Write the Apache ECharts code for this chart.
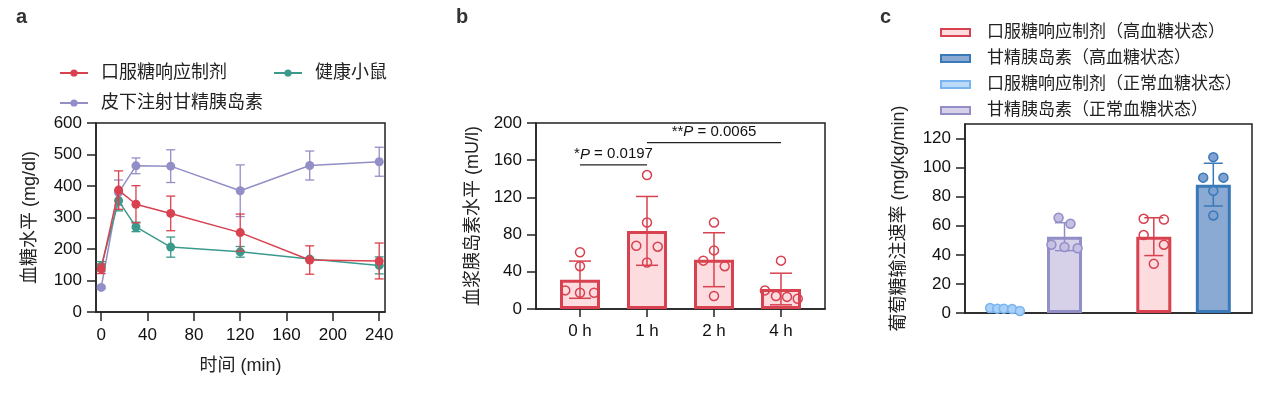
<!DOCTYPE html>
<html><head><meta charset="utf-8">
<script src="https://cdn.jsdelivr.net/npm/echarts@6/dist/echarts.min.js"></script>
<style>html,body{margin:0;padding:0;background:#fff}#c{width:1268px;height:397px}</style>
</head><body><div id="c"></div>
<script>
// ---- Panel a data ----
const timePoints = [0, 15, 30, 60, 120, 180, 240];
const oralMean = [137, 387, 342, 313, 252, 165, 162];
const oralSD = [15, 61, 59, 55, 59, 45, 57];
const healthyMean = [145, 353, 270, 206, 191, 168, 148];
const healthySD = [15, 32, 15, 32, 17, 5, 27];
const glargineMean = [78, 379, 464, 463, 385, 465, 477];
const glargineSD = [4, 40, 25, 52, 82, 46, 46];
const aXTicks = [0, 40, 80, 120, 160, 200, 240];
const aNames = ['口服糖响应制剂', '健康小鼠', '皮下注射甘精胰岛素'];

// ---- Panel b data ----
const bCats = ['0 h', '1 h', '2 h', '4 h'];
const bMean = [31.5, 84, 53, 21.5];
const bSD = [20, 37, 29, 17];
const bPoints = [[20, 46, 61, 17.5, 17.5], [144, 93, 68, 67, 50], [93, 63, 52, 46, 14], [52, 20, 14, 13, 11]];
const bJitter = [[-0.22, 0, 0, 0, 0.21], [0, 0, -0.16, 0.16, 0], [0, 0, -0.16, 0.16, 0], [0, -0.24, -0.075, 0.09, 0.25]];
const bSig = [[0, 1, 155, '*', '0.0197'], [1, 3, 179, '**', '0.0065']];

// ---- Panel c data ----
const cNames = ['口服糖响应制剂（高血糖状态）', '甘精胰岛素（高血糖状态）', '口服糖响应制剂（正常血糖状态）', '甘精胰岛素（正常血糖状态）'];
const cPos = [2.5, 3.5, 0, 1];
const cMean = [52.5, 88.3, 2.7, 52.5];
const cSD = [13, 14.7, 0.7, 9.6];
const cPoints = [[64.8, 64.3, 53.6, 47, 33.8], [107.2, 93.1, 93.1, 84, 67.1], [3.4, 3, 3, 2.7, 1.4], [65.5, 61.4, 47, 45.4, 44.5]];
const cJitter = [[-0.17, 0.17, -0.17, 0.17, 0], [0, -0.17, 0.17, 0, 0], [-0.25, -0.13, -0.02, 0.12, 0.25], [-0.1, 0.1, -0.22, 0, 0.22]];
const cYTicks = [0, 20, 40, 60, 80, 100, 120];

// ---- styles ----
const FONT = '"Liberation Sans", Arial, "Noto Sans CJK SC", sans-serif';
const INK = '#222';
const RED = '#D8414F', RED_FILL = '#FDDCDF';
const TEAL = '#3B9A8C';
const PURPLE = '#928EC8', PURPLE_FILL = '#D6D1E8', PURPLE_PT = '#C5C0E2';
const BLUE = '#3A79B7', BLUE_FILL = '#8AA9D3', BLUE_PT = '#7FA2D2';
const LBLUE = '#79B4F0', LBLUE_FILL = '#BBDAF8', LBLUE_PT = '#A9D0F7';
const cStroke = [RED, BLUE, LBLUE, PURPLE];
const cFill = [RED_FILL, BLUE_FILL, LBLUE_FILL, PURPLE_FILL];
const cPtFill = ['rgba(255,255,255,0)', BLUE_PT, LBLUE_PT, PURPLE_PT];

const axisLine = { show: true, onZero: false, lineStyle: { color: INK, width: 1.5 } };
const tickStyle = { color: INK, width: 1.5 };
const lblStyle = { fontSize: 17, color: '#111', fontFamily: FONT };
const nameStyle = { fontSize: 18, color: '#222', fontFamily: FONT };

function errSeries(gi, data, color, capW, lw, z) {
  return {
    type: 'custom', xAxisIndex: gi, yAxisIndex: gi, data: data, z: z, silent: true,
    renderItem: function (p, api) {
      const x = api.value(0), m = api.value(1), s = api.value(2);
      const t = api.coord([x, m + s]), b = api.coord([x, m - s]);
      const st = { stroke: color, lineWidth: lw };
      return { type: 'group', children: [
        { type: 'line', shape: { x1: t[0], y1: t[1], x2: b[0], y2: b[1] }, style: st },
        { type: 'line', shape: { x1: t[0] - capW / 2, y1: t[1], x2: t[0] + capW / 2, y2: t[1] }, style: st },
        { type: 'line', shape: { x1: b[0] - capW / 2, y1: b[1], x2: b[0] + capW / 2, y2: b[1] }, style: st }
      ] };
    }
  };
}

const series = [];
// Panel a lines (purple bottom, teal, red top)
const aSets = [
  { name: aNames[2], mean: glargineMean, sd: glargineSD, color: PURPLE },
  { name: aNames[1], mean: healthyMean, sd: healthySD, color: TEAL },
  { name: aNames[0], mean: oralMean, sd: oralSD, color: RED }
];
aSets.forEach(function (s, i) {
  series.push(errSeries(0, timePoints.map(function (t, k) { return [t, s.mean[k], s.sd[k]]; }), s.color, 9, 1.3, 2 + i * 2));
  series.push({
    type: 'line', name: s.name, xAxisIndex: 0, yAxisIndex: 0, z: 3 + i * 2,
    data: timePoints.map(function (t, k) { return [t, s.mean[k]]; }),
    symbol: 'circle', symbolSize: 9, showSymbol: true,
    itemStyle: { color: s.color }, lineStyle: { color: s.color, width: 1.5 }
  });
});

// Panel b
series.push({
  type: 'bar', xAxisIndex: 1, yAxisIndex: 1, barWidth: 40, z: 2,
  data: bMean.map(function (v, i) { return [i, v]; }),
  itemStyle: { color: RED_FILL, borderColor: RED, borderWidth: 3 }
});
series.push(errSeries(1, bMean.map(function (v, i) { return [i, v, bSD[i]]; }), RED, 22, 1.5, 3));
const bScatter = [];
bPoints.forEach(function (arr, i) { arr.forEach(function (v, k) { bScatter.push([i + bJitter[i][k], v]); }); });
series.push({
  type: 'scatter', xAxisIndex: 1, yAxisIndex: 1, z: 4, symbol: 'circle', symbolSize: 9,
  data: bScatter, itemStyle: { color: 'rgba(255,255,255,0)', borderColor: RED, borderWidth: 1.5, opacity: 1 }
});
series.push({
  type: 'custom', xAxisIndex: 1, yAxisIndex: 1, z: 5, silent: true,
  data: bSig.map(function (s) { return [s[0], s[1], s[2]]; }),
  renderItem: function (p, api) {
    const s = bSig[p.dataIndex];
    const a = api.coord([s[0], s[2]]), b = api.coord([s[1], s[2]]);
    return { type: 'group', children: [
      { type: 'line', shape: { x1: a[0], y1: a[1], x2: b[0], y2: b[1] }, style: { stroke: '#222', lineWidth: 1.3 } },
      { type: 'text', x: (a[0] + b[0]) / 2, y: a[1] - 3, style: {
        text: '{n|' + s[3] + '}{i|P}{n| = ' + s[4] + '}', align: 'center', verticalAlign: 'bottom',
        rich: { n: { fontSize: 15, fontFamily: FONT, fill: '#111' }, i: { fontSize: 15, fontFamily: FONT, fontStyle: 'italic', fill: '#111' } }
      } }
    ] };
  }
});

// Panel c
cNames.forEach(function (n, i) {
  series.push({
    type: 'bar', name: n, xAxisIndex: 2, yAxisIndex: 2, barWidth: 35, barGap: '-100%', z: 2,
    data: [[cPos[i], cMean[i]]],
    itemStyle: { color: cFill[i], borderColor: cStroke[i], borderWidth: 3 }
  });
});
cNames.forEach(function (n, i) {
  series.push(errSeries(2, [[cPos[i], cMean[i], cSD[i]]], cStroke[i], 19, 1.5, 3));
  series.push({
    type: 'scatter', xAxisIndex: 2, yAxisIndex: 2, z: 4, symbol: 'circle', symbolSize: 9,
    data: cPoints[i].map(function (v, k) { return [cPos[i] + cJitter[i][k], v]; }),
    itemStyle: { color: cPtFill[i], borderColor: cStroke[i], borderWidth: 1.5, opacity: 1 }
  });
});

const gridBase = { show: true, borderColor: INK, borderWidth: 1.5, backgroundColor: 'transparent', containLabel: false, outerBoundsMode: 'none' };

const option = {
  animation: false,
  backgroundColor: '#fff',
  title: [
    { text: 'a', left: 11, top: 2, textStyle: { fontSize: 20, fontWeight: 'bold', color: '#333', fontFamily: FONT } },
    { text: 'b', left: 451, top: 2, textStyle: { fontSize: 20, fontWeight: 'bold', color: '#333', fontFamily: FONT } },
    { text: 'c', left: 875, top: 2, textStyle: { fontSize: 20, fontWeight: 'bold', color: '#333', fontFamily: FONT } }
  ],
  legend: [
    { data: [aNames[0], aNames[1]], left: 54, top: 59, itemWidth: 28, itemHeight: 9, itemGap: 46,
      textStyle: { fontSize: 18, color: '#222', fontFamily: FONT, padding: [0, 0, 0, 8] } },
    { data: [aNames[2]], left: 54, top: 89, itemWidth: 28, itemHeight: 9,
      textStyle: { fontSize: 18, color: '#222', fontFamily: FONT, padding: [0, 0, 0, 8] } },
    { data: cNames, orient: 'vertical', left: 935, top: 19, itemWidth: 29, itemHeight: 7, itemGap: 9, icon: 'rect',
      itemStyle: { borderWidth: 2 },
      textStyle: { fontSize: 17, color: '#222', fontFamily: FONT, padding: [0, 0, 0, 12] } }
  ],
  grid: [
    Object.assign({ left: 96, top: 123, width: 289, height: 189 }, gridBase),
    Object.assign({ left: 536, top: 123, width: 289, height: 186 }, gridBase),
    Object.assign({ left: 965, top: 124, width: 287, height: 189 }, gridBase)
  ],
  xAxis: [
    { gridIndex: 0, type: 'value', min: -4.5, max: 245, axisLine: axisLine,
      axisTick: { show: true, length: 9, lineStyle: tickStyle, customValues: aXTicks },
      axisLabel: Object.assign({ margin: 15, customValues: aXTicks }, lblStyle),
      splitLine: { show: false },
      name: '时间 (min)', nameLocation: 'middle', nameGap: 45, nameTextStyle: nameStyle },
    { gridIndex: 1, type: 'value', min: -0.657, max: 3.657, axisLine: axisLine,
      axisTick: { show: true, length: 8, lineStyle: tickStyle, customValues: [0, 1, 2, 3] },
      axisLabel: Object.assign({ margin: 14, customValues: [0, 1, 2, 3], formatter: function (v) { return bCats[Math.round(v)]; } }, lblStyle),
      splitLine: { show: false } },
    { gridIndex: 2, type: 'value', min: -0.672, max: 4.15, axisLine: axisLine,
      axisTick: { show: false }, axisLabel: { show: false }, splitLine: { show: false } }
  ],
  yAxis: [
    { gridIndex: 0, type: 'value', min: 0, max: 600, interval: 100, axisLine: axisLine,
      axisTick: { show: true, length: 9, lineStyle: tickStyle },
      axisLabel: Object.assign({ margin: 14 }, lblStyle), splitLine: { show: false },
      name: '血糖水平 (mg/dl)', nameLocation: 'middle', nameRotate: 90, nameGap: 57, nameTextStyle: nameStyle },
    { gridIndex: 1, type: 'value', min: 0, max: 200, interval: 40, axisLine: axisLine,
      axisTick: { show: true, length: 9, lineStyle: tickStyle },
      axisLabel: Object.assign({ margin: 14 }, lblStyle), splitLine: { show: false },
      name: '血浆胰岛素水平 (mU/l)', nameLocation: 'middle', nameRotate: 90, nameGap: 54, nameTextStyle: nameStyle },
    { gridIndex: 2, type: 'value', min: 0, max: 130, axisLine: axisLine,
      axisTick: { show: true, length: 9, lineStyle: tickStyle, customValues: cYTicks },
      axisLabel: Object.assign({ margin: 14, customValues: cYTicks }, lblStyle), splitLine: { show: false },
      name: '葡萄糖输注速率 (mg/kg/min)', nameLocation: 'middle', nameRotate: 90, nameGap: 57, nameTextStyle: nameStyle }
  ],
  series: series
};

const chart = echarts.init(document.getElementById('c'), null, { renderer: 'canvas' });
chart.setOption(option);
</script>
</body></html>
